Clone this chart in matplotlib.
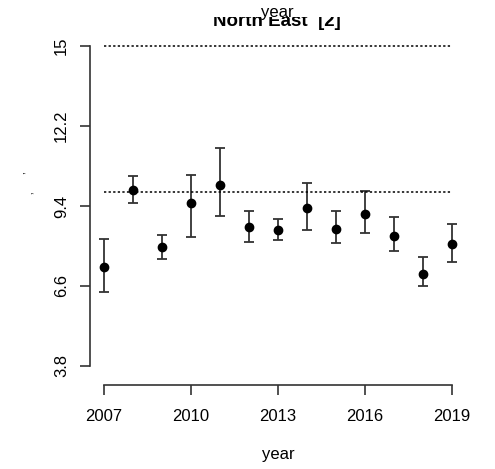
import matplotlib
matplotlib.use("Agg")
import matplotlib.pyplot as plt
from matplotlib.patches import Rectangle

plt.rcParams['font.family'] = ['Liberation Sans', 'DejaVu Sans']

years = [2007, 2008, 2009, 2010, 2011, 2012, 2013, 2014, 2015, 2016, 2017, 2018, 2019]
est = [7.28, 9.96, 7.96, 9.52, 10.13, 8.68, 8.56, 9.32, 8.61, 9.13, 8.34, 7.01, 8.06]
upper = [8.23, 10.45, 8.38, 10.47, 11.43, 9.21, 8.93, 10.22, 9.22, 9.94, 9.03, 7.60, 8.76]
lower = [6.39, 9.52, 7.54, 8.30, 9.04, 8.13, 8.20, 8.56, 8.10, 8.44, 7.81, 6.60, 7.45]
ref_lines = [15.0, 9.90]
y_ticks = [3.8, 6.6, 9.4, 12.2, 15]
x_ticks = [2007, 2010, 2013, 2016, 2019]

W, H = 495, 469
fig = plt.figure(figsize=(W / 100, H / 100), dpi=100)

# plot region in pixels: x 90..466, y 33..385
ax = fig.add_axes([90 / W, (H - 385) / H, 376 / W, 352 / H])
ax.set_xlim(2007 - 14 / 29, 2019 + 14 / 29)
ax.set_ylim(3.8 - 19 / 28.57, 15 + 13 / 28.57)

yerr = [[e - l for e, l in zip(est, lower)], [u - e for u, e in zip(upper, est)]]
ax.errorbar(years, est, yerr=yerr, fmt='o', color='black', ms=6,
            ecolor='#333333', elinewidth=1.3, capsize=3.5, capthick=1.3)

for r in ref_lines:
    ax.plot([years[0], years[-1]], [r, r], color='black', lw=1.1, ls=(0, (1.5, 1.5)))

for s in ['top', 'right']:
    ax.spines[s].set_visible(False)
ax.spines['left'].set_bounds(y_ticks[0], y_ticks[-1])
ax.spines['bottom'].set_bounds(x_ticks[0], x_ticks[-1])
for s in ['left', 'bottom']:
    ax.spines[s].set_color('#333333')
    ax.spines[s].set_linewidth(1.2)

ax.set_xticks(x_ticks)
ax.set_xticklabels([str(x) for x in x_ticks])
ax.set_yticks(y_ticks)
ax.set_yticklabels([str(y) for y in y_ticks], rotation=90, va='center')
ax.tick_params(axis='both', direction='out', length=7, width=1.2, color='#333333',
               labelsize=12)
ax.tick_params(axis='x', pad=10)
ax.tick_params(axis='y', pad=8)

ax.set_xlabel('year', fontsize=12, labelpad=17)

fig.text(277 / W, 1 - 21 / H, 'North East  [2]', fontsize=13.5, fontweight='bold',
         ha='center', va='center')
fig.add_artist(Rectangle((0, 1 - 17 / H), 1, 17 / H, transform=fig.transFigure,
                         facecolor='white', edgecolor='none', zorder=5))
fig.text(277 / W, 1 - 12 / H, 'year', fontsize=12, ha='center', va='center', zorder=6)

fig.text(29 / W, 1 - 183 / H, '\u201a     \u2019', fontsize=9, rotation=90,
         ha='center', va='center', color='#333333')

fig.savefig('out.png', dpi=100)
